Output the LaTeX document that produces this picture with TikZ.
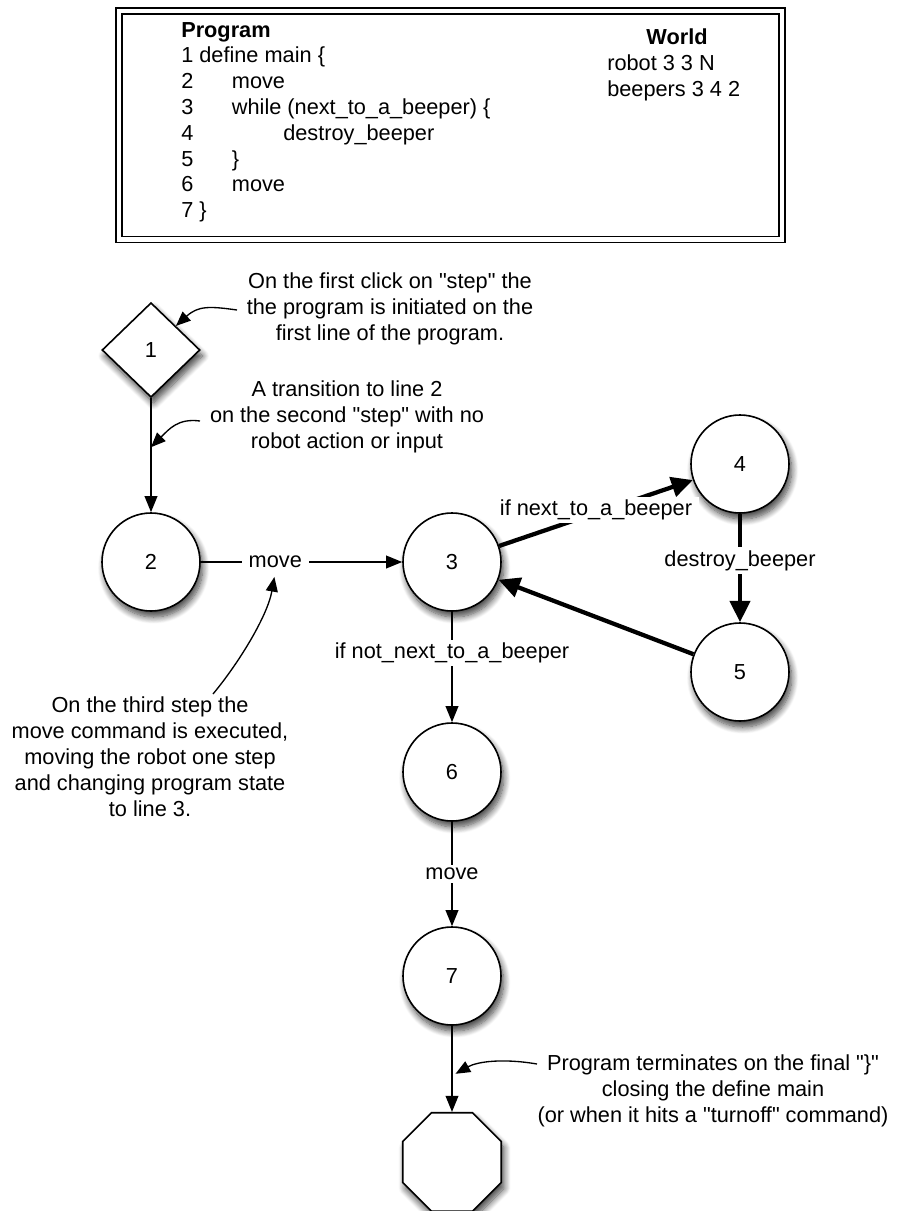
\documentclass[tikz,border=0pt]{standalone}
\usepackage{fontspec}
\setmainfont{Liberation Sans}[Ligatures=TeXOff]
\usetikzlibrary{arrows.meta, positioning, shapes.geometric, shadows.blur}

\begin{document}
\begin{tikzpicture}[
    x=0.75pt, y=-0.75pt,
    font=\fontsize{16.3pt}{19.5pt}\selectfont,
    on grid,
    flow/.style={-{Triangle[length=12pt, width=9.5pt]}, line width=1.1pt},
    strong/.style={-{Triangle[length=16pt, width=15pt]}, line width=3.2pt},
    hint/.style={-{Triangle[length=11pt, width=9pt]}, line width=1pt},
    shade/.style={blur shadow={shadow xshift=2pt, shadow yshift=-4.5pt, shadow blur radius=5pt, shadow blur steps=10, shadow opacity=75}},
    state/.style={circle, draw, line width=1.2pt, fill=white, minimum size=73.5pt, inner sep=0pt, shade},
    start/.style={diamond, draw, line width=1.2pt, fill=white, minimum width=73.5pt, minimum height=71pt, inner sep=0pt, shade},
    stop/.style={regular polygon, regular polygon sides=8, draw, line width=1.2pt, fill=white, minimum size=80pt, inner sep=0pt, shade},
    lbl/.style={fill=white, inner xsep=5pt, inner ysep=2.25pt},
    note/.style={align=center, inner sep=0pt},
    code/.style={inner sep=0pt}
]
\useasboundingbox (0,0) rectangle (897,1211);

% --- Program and world ---
\draw[line width=1.1pt, double, double distance=3.4pt] (119,11) rectangle (782,239.5);
\foreach \txt [count=\i from 0] in {{\textbf{Program}}, {1 define main \{},
    {\makebox[38pt][l]{2}move}, {\makebox[38pt][l]{3}while (next\_to\_a\_beeper) \{},
    {\makebox[76.5pt][l]{4}destroy\_beeper}, {\makebox[38pt][l]{5}\}},
    {\makebox[38pt][l]{6}move}, {7 \}}}
  \node[code, anchor=base west] (line\i) at (181,{37+25.8*\i}) {\txt};
\node[code, anchor=base] (world) at (677,44) {\textbf{World}};
\node[code, anchor=base west] (robot) at (607,70) {robot 3 3 N};
\node[code, anchor=base west] (beepers) at (607,96) {beepers 3 4 2};

% --- States ---
\node[start] (n1) at (151,350) {1};
\node[state] (n2) [below=159pt of n1] {2};
\node[state] (n3) [right=225.75pt of n2] {3};
\node[state] (n4) [above right=73.5pt and 216pt of n3] {4};
\node[state] (n5) [below=156pt of n4] {5};
\node[state] (n6) [below=157.5pt of n3] {6};
\node[state] (n7) [below=153pt of n6] {7};
\node[stop] (end) [below=139.5pt of n7] {};

% --- Transitions ---
\draw[flow] (n1) -- coordinate[pos=0.43] (hit12) (n2);
\draw[flow] (n2) -- node[lbl, pos=0.37] (mv23) {move} (n3);
\draw[strong] (n3) -- node[lbl, midway, yshift=2pt] (ifnext) {if next\_to\_a\_beeper} (n4);
\draw[strong] (n4) -- node[lbl, pos=0.43] (destroy) {destroy\_beeper} (n5);
\draw[strong] (n5) -- (n3);
\draw[flow] (n3) -- node[lbl, pos=0.37] (ifnot) {if not\_next\_to\_a\_beeper} (n6);
\draw[flow] (n6) -- node[lbl, midway] (mv67) {move} (n7);
\draw[flow] (n7) -- coordinate[pos=0.58] (hit7) (end);

% --- Notes ---
\node[note] (noteA) at (390,309) {On the first click on "step" the\\the program is initiated on the\\first line of the program.};
\node[note] (noteB) at (347,417) {A transition to line 2\\on the second "step" with no\\robot action or input};
\node[note] (noteC) at (150,757) {On the third step the\\move command is executed,\\moving the robot one step\\and changing program state\\to line 3.};
\node[note] (noteD) at (713,1091) {Program terminates on the final "\}"\\closing the define main\\(or when it hits a "turnoff" command)};

\coordinate (a0) at (237,310);
\coordinate (b0) at (200,421);
\coordinate (c0) at (213,694);
\coordinate (d0) at (537,1064);
\draw[hint] (a0) .. controls +(-28,-4) and +(22,-20) .. (n1.north east);
\draw[hint] (b0) .. controls +(-22,-3) and +(18,-18) .. (hit12);
\draw[hint, shorten >=4pt] (c0) .. controls +(25,-30) and +(-8,45) .. (mv23.south);
\draw[hint, shorten >=3pt] (d0) .. controls +(-35,-6) and +(25,-14) .. (hit7);

\end{tikzpicture}
\end{document}
